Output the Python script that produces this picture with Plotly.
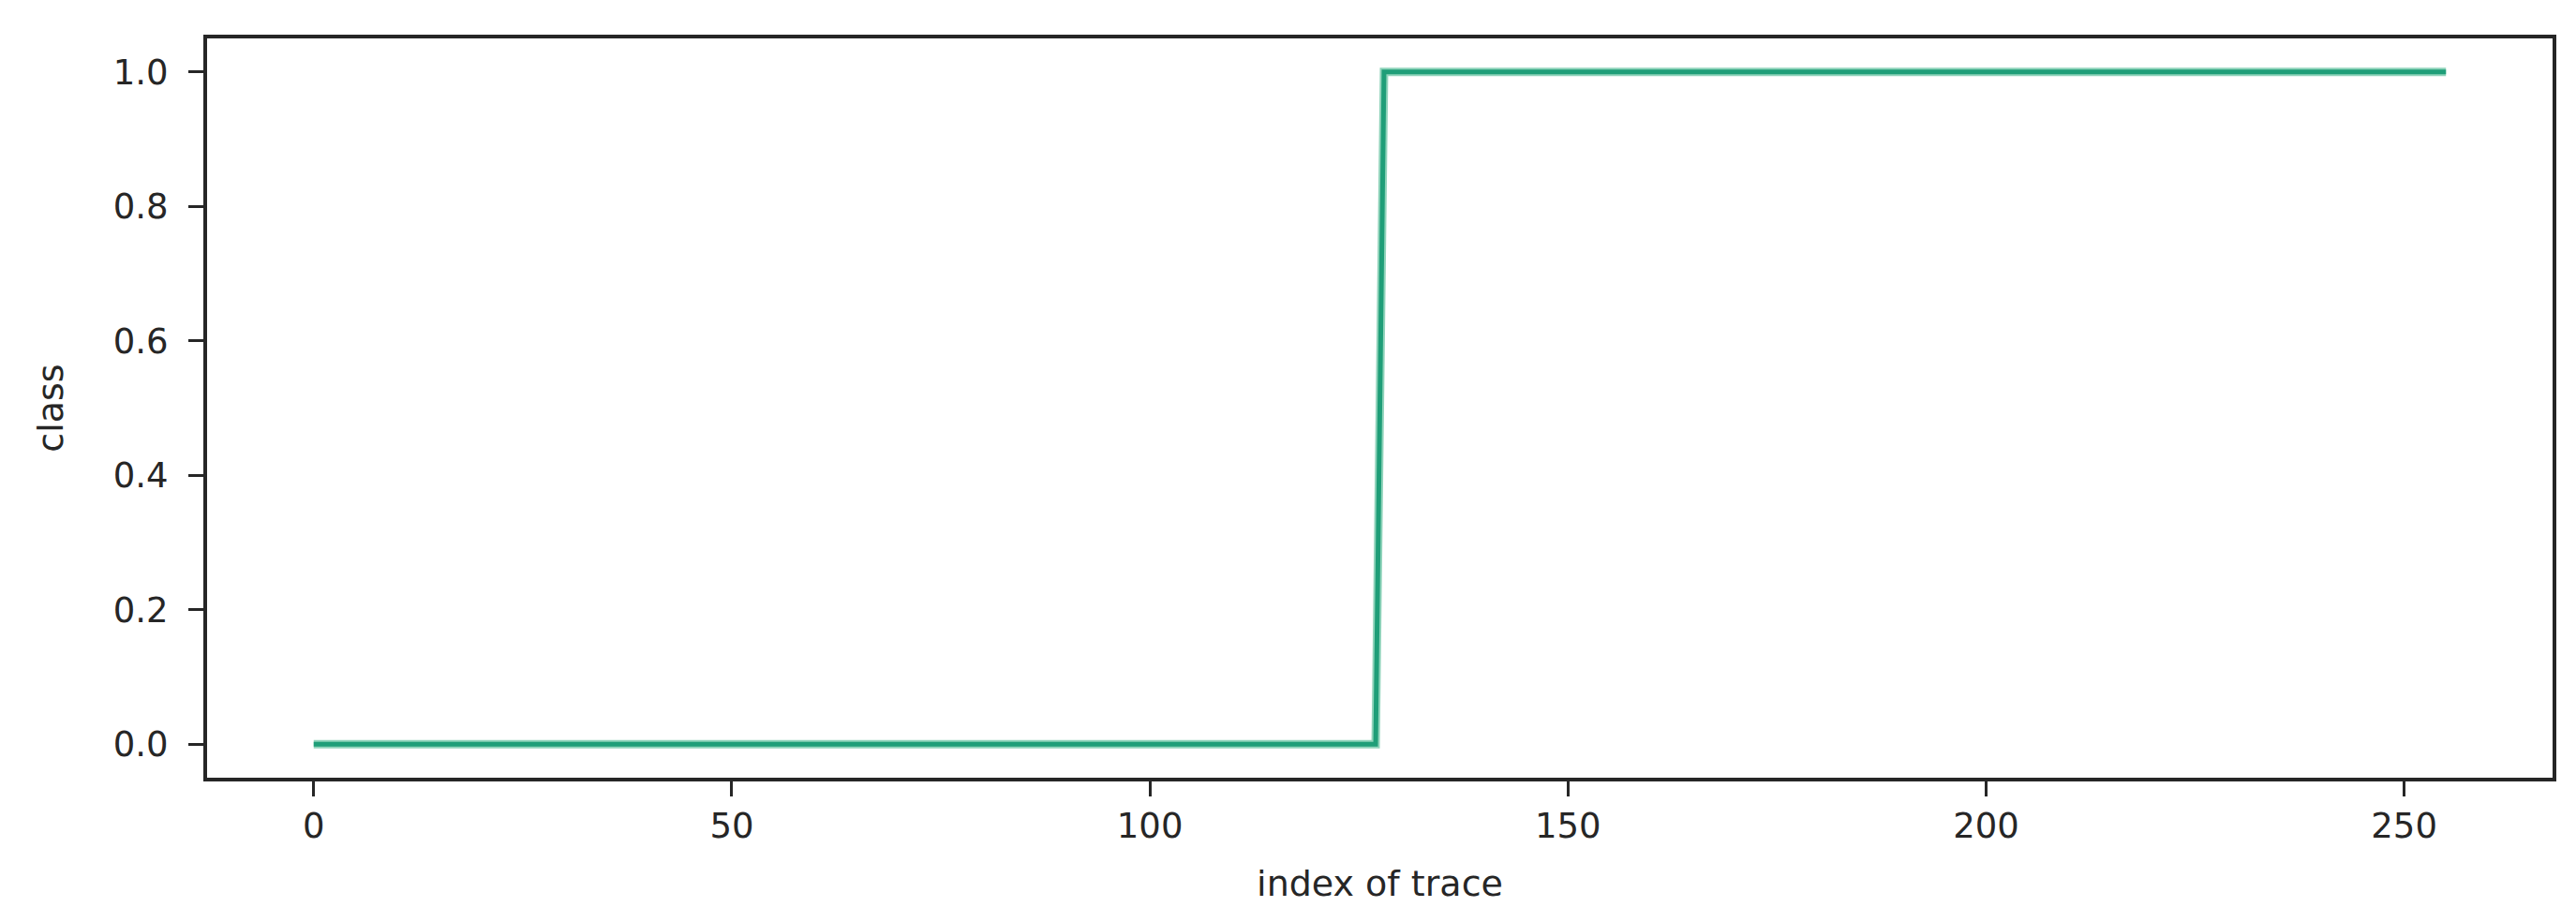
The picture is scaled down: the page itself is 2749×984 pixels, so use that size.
import plotly.graph_objects as go

# Values (line breakpoints; the line is straight in between)
trace_index = [0, 127, 128, 255]
class_value = [0, 0, 1, 1]

x_ticks = [0, 50, 100, 150, 200, 250]
y_ticks = [0.0, 0.2, 0.4, 0.6, 0.8, 1.0]

TEXT = "#262626"
FONT = "DejaVu Sans"

fig = go.Figure()
# soft halo + solid core, mimicking the anti-aliased line of the reference
fig.add_trace(go.Scatter(
    x=trace_index, y=class_value, mode="lines",
    line=dict(color="#8fd3ba", width=9),
    showlegend=False, hoverinfo="skip",
))
fig.add_trace(go.Scatter(
    x=trace_index, y=class_value, mode="lines",
    line=dict(color="#1f9e78", width=5),
    showlegend=False,
))

axis_common = dict(
    showgrid=False, zeroline=False,
    showline=True, mirror=True, linewidth=4, linecolor=TEXT,
    ticks="outside", ticklen=16, tickwidth=3, tickcolor=TEXT,
    tickfont=dict(family=FONT, size=37, color=TEXT),
)

fig.update_layout(
    width=2749, height=984,
    margin=dict(l=213, r=33, t=33, b=162, autoexpand=False),
    paper_bgcolor="white", plot_bgcolor="white",
    font=dict(family=FONT, color=TEXT),
    xaxis=dict(
        range=[-12.75, 267.75], tickvals=x_ticks,
        ticktext=[str(v) for v in x_ticks],
        title=dict(text="index of trace", font=dict(family=FONT, size=38, color=TEXT), standoff=28),
        **axis_common,
    ),
    yaxis=dict(
        range=[-0.05, 1.05], tickvals=y_ticks,
        ticktext=[f"{v:.1f}" for v in y_ticks],
        ticklabelstandoff=14,
        title=dict(text="class", font=dict(family=FONT, size=38, color=TEXT), standoff=42),
        **axis_common,
    ),
)

fig.write_html("out.html")
